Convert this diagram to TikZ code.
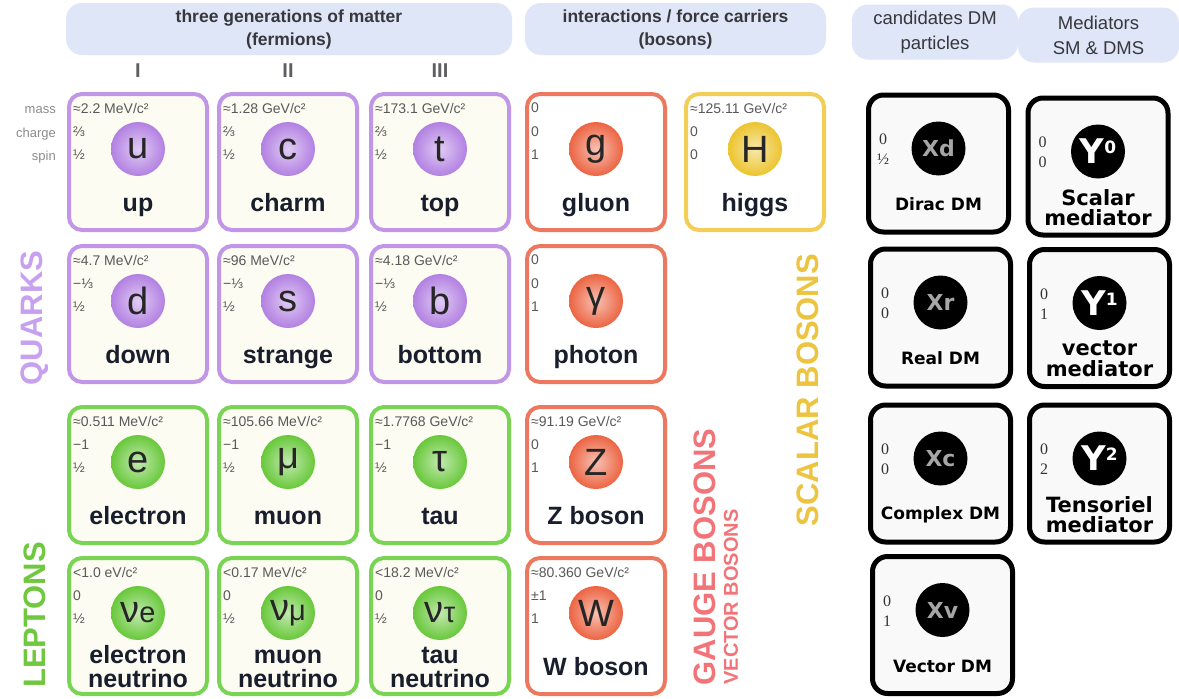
\documentclass[tikz,border=0pt]{standalone}
\usepackage{fontspec}
\setmainfont{Liberation Sans}
\newfontfamily\dmfont{DejaVu Sans}
\newfontfamily\numfont{Liberation Serif}
\usepackage{tikz}
\usetikzlibrary{positioning}
\usepackage{xcolor}
\definecolor{hdrblue}{RGB}{222,230,247}
\definecolor{hdrtext}{RGB}{55,55,60}
\definecolor{nametext}{RGB}{25,30,45}
\definecolor{quarkline}{RGB}{193,150,230}
\definecolor{quarkfill}{RGB}{252,252,242}
\definecolor{quarkball}{RGB}{178,128,226}
\definecolor{leptonline}{RGB}{122,212,84}
\definecolor{leptonfill}{RGB}{252,252,242}
\definecolor{leptonball}{RGB}{104,200,58}
\definecolor{gaugeline}{RGB}{236,120,96}
\definecolor{gaugefill}{RGB}{255,255,255}
\definecolor{gaugeball}{RGB}{236,100,66}
\definecolor{higgsline}{RGB}{242,206,86}
\definecolor{higgsfill}{RGB}{255,255,255}
\definecolor{higgsball}{RGB}{236,196,46}
\definecolor{quarkword}{RGB}{200,160,240}
\definecolor{leptonword}{RGB}{112,200,62}
\definecolor{gaugeword}{RGB}{242,116,120}
\definecolor{scalarword}{RGB}{236,196,64}

\tikzset{
  hdrbox/.style={fill=hdrblue,rounded corners=16pt,align=center,inner sep=0pt,text=hdrtext},
  genlabel/.style={font=\bfseries\fontsize{20}{20}\selectfont,text=hdrtext!80,inner sep=0pt},
  proplabel/.style={anchor=east,font=\fontsize{13}{13}\selectfont,text=black!45,inner sep=0pt},
  smcell/.style={line width=4pt,rounded corners=13pt,minimum width=138pt,minimum height=136pt,inner sep=0pt},
  smball/.style={circle,minimum size=54pt,inner sep=0pt,font=\fontsize{38}{38}\selectfont,text=black!85},
  smsmall/.style={anchor=west,inner sep=0pt,font=\fontsize{14}{14}\selectfont,text=black!65},
  smname/.style={align=center,inner sep=0pt,font=\bfseries\fontsize{25}{23}\selectfont,text=nametext},
  grouplabel/.style={rotate=90,inner sep=0pt,font=\bfseries\fontsize{31}{31}\selectfont},
  dmcell/.style={draw=black,line width=5pt,rounded corners=15pt,fill=gray!5,minimum width=140pt,minimum height=137pt,inner sep=0pt},
  dmnum/.style={align=center,inner sep=0pt,font=\numfont\fontsize{16}{20}\selectfont,text=black!80},
  dmball/.style={circle,fill=black,minimum size=54pt,inner sep=0pt},
  dmlabel/.style={inner sep=0pt,font=\dmfont\bfseries\fontsize{17}{17}\selectfont},
  medlabel/.style={align=center,inner sep=0pt,font=\dmfont\bfseries\fontsize{21}{20.5}\selectfont}
}

% one standard model cell: name, x, y, family, mass, charge, spin, symbol, label
\newcommand{\smcell}[9]{%
  \node[smcell,draw=#4line,fill=#4fill] (#1) at (#2,#3) {};
  \node[smsmall] (#1-m) at ([xshift=6pt,yshift=-16pt]#1.north west) {#5};
  \node[smsmall] (#1-q) at ([xshift=6pt,yshift=-40pt]#1.north west) {#6};
  \node[smsmall] (#1-s) at ([xshift=6pt,yshift=-63pt]#1.north west) {#7};
  \node[smball,inner color=#4ball!40!white,outer color=#4ball] (#1-b) at ([yshift=-57pt]#1.north) {#8};
  \node[smname] (#1-l) at ([yshift=-113pt]#1.north) {\vphantom{Ahp}#9\vphantom{Ahp}};
}
% one dark matter cell: name, x, y, first number, second number, symbol, label, label style
\newcommand{\dmcell}[8]{%
  \node[dmcell] (#1) at (#2,#3) {};
  \node[dmnum] (#1-n) at ([xshift=17pt,yshift=-57pt]#1.north west) {#4\\#5};
  \node[dmball] (#1-b) at ([yshift=-56pt]#1.north) {#6};
  \node[#8] (#1-l) at ([yshift=-112pt]#1.north) {#7};
}
\newcommand{\dmsym}[1]{{\dmfont\bfseries\fontsize{22}{22}\selectfont\color{black!35}#1}}
\newcommand{\medsym}[1]{{\dmfont\bfseries\color{white}\fontsize{34}{34}\selectfont Y\raisebox{10pt}{\fontsize{17}{17}\selectfont #1}}}

\begin{document}
\begin{tikzpicture}[x=1pt,y=-1pt]
\useasboundingbox[fill=white] (0,0) rectangle (1179,699);

% headers
\node[hdrbox,minimum width=446pt,minimum height=52pt,font=\bfseries\fontsize{17.5}{23}\selectfont] (hdrferm) at (289,29) {three generations of matter\\(fermions)};
\node[hdrbox,minimum width=301pt,minimum height=52pt,font=\bfseries\fontsize{17.5}{23}\selectfont] (hdrbos) at (675.5,29) {interactions / force carriers\\(bosons)};
\node[hdrbox,minimum width=166pt,minimum height=55pt,font=\fontsize{18.5}{25}\selectfont] (hdrdm) at (935,32) {candidates DM\\particles};
\node[hdrbox,minimum width=161pt,minimum height=55pt,font=\fontsize{18.5}{25}\selectfont] (hdrmed) at (1098.5,35) {Mediators\\SM \& DMS};

\node[genlabel] (gen1) at (138,71) {I};
\node[genlabel] (gen2) at (288,71) {II};
\node[genlabel] (gen3) at (440,71) {III};

\node[proplabel] (lblmass) at (56,110) {mass};
\node[proplabel] (lblcharge) at (56,134) {charge};
\node[proplabel] (lblspin) at (56,157) {spin};

% quarks
\smcell{u}{138}{162}{quark}{≈2.2 MeV/c²}{⅔}{½}{u}{up}
\smcell{c}{288}{162}{quark}{≈1.28 GeV/c²}{⅔}{½}{c}{charm}
\smcell{t}{440}{162}{quark}{≈173.1 GeV/c²}{⅔}{½}{t}{top}
\smcell{d}{138}{314}{quark}{≈4.7 MeV/c²}{−⅓}{½}{d}{down}
\smcell{s}{288}{314}{quark}{≈96 MeV/c²}{−⅓}{½}{s}{strange}
\smcell{b}{440}{314}{quark}{≈4.18 GeV/c²}{−⅓}{½}{b}{bottom}
% leptons
\smcell{e}{138}{475}{lepton}{≈0.511 MeV/c²}{−1}{½}{e}{electron}
\smcell{mu}{288}{475}{lepton}{≈105.66 MeV/c²}{−1}{½}{μ}{muon}
\smcell{tau}{440}{475}{lepton}{≈1.7768 GeV/c²}{−1}{½}{τ}{tau}
\smcell{nue}{138}{626}{lepton}{<1.0 eV/c²}{0}{½}{ν{\fontsize{29}{29}\selectfont e}}{electron\\neutrino}
\smcell{numu}{288}{626}{lepton}{<0.17 MeV/c²}{0}{½}{ν{\fontsize{29}{29}\selectfont μ}}{muon\\neutrino}
\smcell{nutau}{440}{626}{lepton}{<18.2 MeV/c²}{0}{½}{ν{\fontsize{29}{29}\selectfont τ}}{tau\\neutrino}
% bosons
\smcell{g}{596}{162}{gauge}{0}{0}{1}{g}{gluon}
\smcell{gamma}{596}{314}{gauge}{0}{0}{1}{γ}{photon}
\smcell{Z}{596}{475}{gauge}{≈91.19 GeV/c²}{0}{1}{Z}{Z boson}
\smcell{W}{596}{626}{gauge}{≈80.360 GeV/c²}{±1}{1}{W}{W boson}
\smcell{H}{755}{162}{higgs}{≈125.11 GeV/c²}{0}{0}{H}{higgs}

% group words
\node[grouplabel,text=quarkword] (wquarks) at (35,318) {QUARKS};
\node[grouplabel,text=leptonword] (wleptons) at (35,615) {LEPTONS};
\node[grouplabel,text=gaugeword] (wgauge) at (705,557) {GAUGE BOSONS};
\node[grouplabel,text=gaugeword,font=\bfseries\fontsize{20}{20}\selectfont] (wvector) at (731,597) {VECTOR BOSONS};
\node[grouplabel,text=scalarword] (wscalar) at (808,390) {SCALAR BOSONS};

% dark matter candidates
\dmcell{xd}{938.5}{163.5}{0}{½}{\dmsym{Xd}}{Dirac DM}{dmlabel}
\dmcell{xr}{940.5}{317.5}{0}{0}{\dmsym{Xr}}{Real DM}{dmlabel}
\dmcell{xc}{940.5}{473.5}{0}{0}{\dmsym{Xc}}{Complex DM}{dmlabel}
\dmcell{xv}{942.5}{625}{0}{1}{\dmsym{Xv}}{Vector DM}{dmlabel}
% mediators
\dmcell{y0}{1098}{166.5}{0}{0}{\medsym{0}}{Scalar\\mediator}{medlabel}
\dmcell{y1}{1099.5}{318}{0}{1}{\medsym{1}}{vector\\mediator}{medlabel}
\dmcell{y2}{1099.5}{473.5}{0}{2}{\medsym{2}}{Tensoriel\\mediator}{medlabel}
\end{tikzpicture}
\end{document}
